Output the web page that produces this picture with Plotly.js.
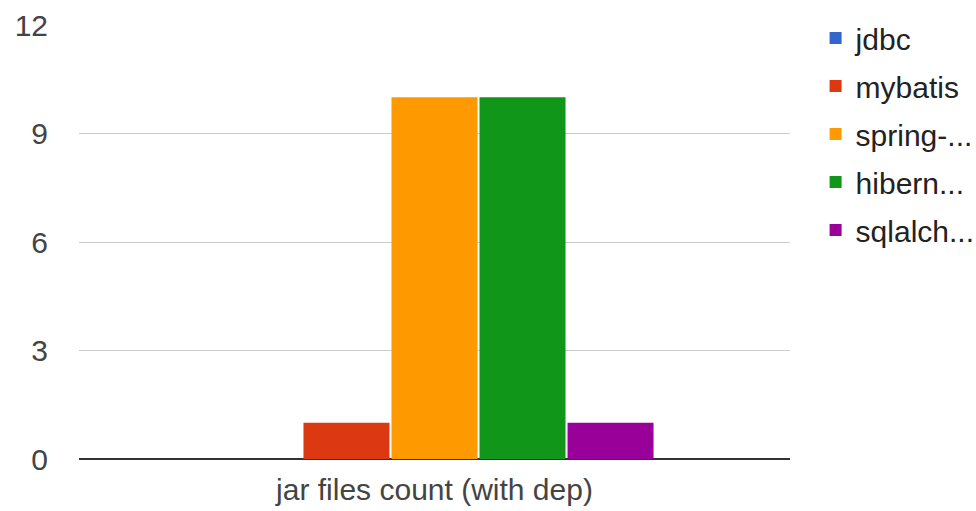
<!DOCTYPE html>
<html>
<head>
<meta charset="utf-8">
<script src="https://cdn.plot.ly/plotly-3.0.1.min.js"></script>
<style>html,body{margin:0;padding:0;background:#fff;}#chart{width:976px;height:511px;}</style>
</head>
<body>
<div id="chart"></div>
<script>
var categories = ["jar files count (with dep)"];
var seriesNames = ["jdbc", "mybatis", "spring-...", "hibern...", "sqlalch..."];
var seriesValues = [[0], [1], [10], [10], [1]];
var seriesColors = ["#3366cc", "#dc3912", "#ff9900", "#109618", "#990099"];
var yTicks = [0, 3, 6, 9, 12];

var traces = seriesNames.map(function (name, i) {
  return {
    type: "bar",
    name: name,
    x: categories,
    y: seriesValues[i],
    legendgroup: "g" + i,
    marker: { color: seriesColors[i], line: { width: 0 } },
    hoverinfo: "none"
  };
});

var layout = {
  width: 976,
  height: 511,
  margin: { l: 79, r: 186, t: 25, b: 52, pad: 0, autoexpand: false },
  paper_bgcolor: "#ffffff",
  plot_bgcolor: "#ffffff",
  font: { family: "Liberation Sans, Arial, sans-serif", size: 30, color: "#444444" },
  barmode: "group",
  bargap: 0.381,
  bargroupgap: 0.023,
  showlegend: true,
  legend: {
    x: 1.036, xanchor: "left",
    y: 1.030, yanchor: "top",
    font: { size: 30, color: "#222222" },
    tracegroupgap: 6,
    traceorder: "grouped",
    bgcolor: "rgba(0,0,0,0)"
  },
  xaxis: {
    type: "category",
    range: [-0.5, 0.5],
    showgrid: false,
    showline: false,
    zeroline: false,
    ticks: "",
    ticklabelstandoff: 10,
    tickfont: { size: 30, color: "#444444" }
  },
  yaxis: {
    range: [0, 12],
    tickvals: yTicks,
    ticktext: yTicks.map(String),
    showgrid: true,
    gridcolor: "#cccccc",
    gridwidth: 1,
    zeroline: true,
    zerolinecolor: "#333333",
    zerolinewidth: 2,
    showline: false,
    ticks: "",
    ticklabelstandoff: 30,
    tickfont: { size: 30, color: "#444444" }
  }
};

Plotly.newPlot("chart", traces, layout, { displayModeBar: false, staticPlot: true });
</script>
</body>
</html>
